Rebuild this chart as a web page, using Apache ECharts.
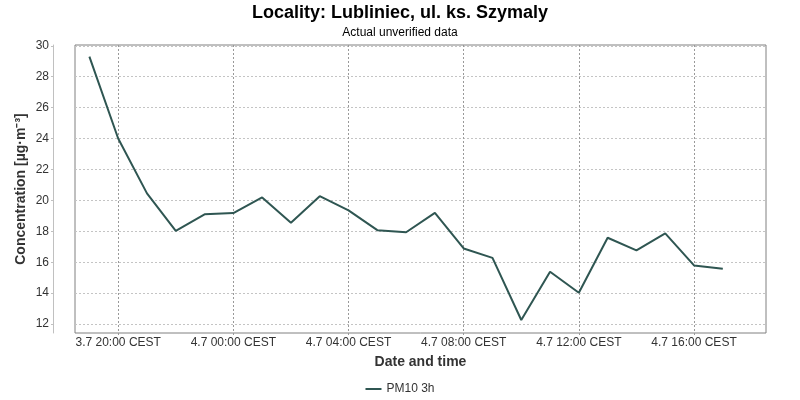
<!DOCTYPE html>
<html>
<head>
<meta charset="utf-8">
<script src="https://cdn.jsdelivr.net/npm/echarts@6/dist/echarts.min.js"></script>
<style>html,body{margin:0;padding:0;background:#fff}#c{width:800px;height:400px}</style>
</head>
<body>
<div id="c"></div>
<script>
// Data
var times = ['3.7 19:00','3.7 20:00','3.7 21:00','3.7 22:00','3.7 23:00','4.7 00:00','4.7 01:00','4.7 02:00',
  '4.7 03:00','4.7 04:00','4.7 05:00','4.7 06:00','4.7 07:00','4.7 08:00','4.7 09:00','4.7 10:00',
  '4.7 11:00','4.7 12:00','4.7 13:00','4.7 14:00','4.7 15:00','4.7 16:00','4.7 17:00'];
var pm10 = [29.3, 24.0, 20.45, 18.03, 19.1, 19.18, 20.19, 18.55, 20.27, 19.35, 18.07, 17.94,
  19.19, 16.89, 16.28, 12.26, 15.38, 14.02, 17.58, 16.76, 17.86, 15.79, 15.57];
var xTickLabels = ['3.7 20:00 CEST','4.7 00:00 CEST','4.7 04:00 CEST','4.7 08:00 CEST','4.7 12:00 CEST','4.7 16:00 CEST'];
var yTicks = [12, 14, 16, 18, 20, 22, 24, 26, 28, 30];

function toHours(s) {
  var p = s.split(' ');
  var day = parseInt(p[0].split('.')[0], 10);
  var hm = p[1].split(':');
  return (day - 3) * 24 + parseInt(hm[0], 10) + parseInt(hm[1], 10) / 60;
}
var seriesData = times.map(function (t, i) { return [toHours(t), pm10[i]]; });
var xTickValues = xTickLabels.map(function (l) { return toHours(l.replace(' CEST', '')); });
var labelMap = {};
xTickValues.forEach(function (v, i) { labelMap[v] = xTickLabels[i]; });

var chart = echarts.init(document.getElementById('c'), null, { renderer: 'canvas' });
var FONT = 'Liberation Sans, Arial, sans-serif';
chart.setOption({
  animation: false,
  backgroundColor: '#ffffff',
  textStyle: { fontFamily: FONT },
  title: {
    text: 'Locality: Lubliniec, ul. ks. Szymaly',
    subtext: 'Actual unverified data',
    left: 'center',
    top: -1,
    itemGap: 5,
    textStyle: { fontFamily: FONT, fontSize: 18, fontWeight: 'bold', color: '#000' },
    subtextStyle: { fontFamily: FONT, fontSize: 12, color: '#000' }
  },
  legend: {
    bottom: 0,
    left: 'center',
    icon: 'rect',
    itemWidth: 16,
    itemHeight: 2,
    itemGap: 10,
    textStyle: { fontFamily: FONT, fontSize: 12, color: '#333' },
    data: ['PM10 3h']
  },
  grid: {
    left: 75, right: 34, top: 45, bottom: 67,
    outerBoundsMode: 'none',
    containLabel: false,
    show: true, borderColor: '#808080', borderWidth: 1, backgroundColor: '#fff'
  },
  xAxis: {
    type: 'value',
    min: 18.5,
    max: 42.5,
    name: 'Date and time',
    nameLocation: 'middle',
    nameGap: 22,
    nameTextStyle: { fontFamily: FONT, fontSize: 14, fontWeight: 'bold', color: '#333' },
    axisLine: { show: false },
    axisTick: { show: true, customValues: xTickValues, length: 2, lineStyle: { color: '#999' } },
    axisLabel: {
      customValues: xTickValues,
      margin: 4,
      fontFamily: FONT, fontSize: 12, color: '#333',
      formatter: function (v) { return labelMap[v] || ''; }
    },
    splitLine: { show: true, lineStyle: { color: '#999', type: [2, 2], width: 1 } }
  },
  yAxis: {
    type: 'value',
    min: 11.42,
    max: 30.05,
    offset: 22,
    name: 'Concentration [µg·m⁻³]',
    nameLocation: 'middle',
    nameGap: 25,
    nameMoveOverlap: false,
    nameTextStyle: { fontFamily: FONT, fontSize: 14, fontWeight: 'bold', color: '#333' },
    axisLine: { show: true, lineStyle: { color: '#c0c0c0' } },
    axisTick: { show: true, customValues: yTicks, length: 2, lineStyle: { color: '#c0c0c0' } },
    axisLabel: { customValues: yTicks, margin: 4, fontFamily: FONT, fontSize: 12, color: '#333' },
    splitLine: { show: true, lineStyle: { color: '#c4c4c4', type: [2, 2], width: 1 } }
  },
  series: [{
    name: 'PM10 3h',
    type: 'line',
    data: seriesData,
    showSymbol: false,
    symbol: 'none',
    lineStyle: { color: '#2f5652', width: 2 },
    itemStyle: { color: '#2f5652' }
  }]
});
</script>
</body>
</html>
